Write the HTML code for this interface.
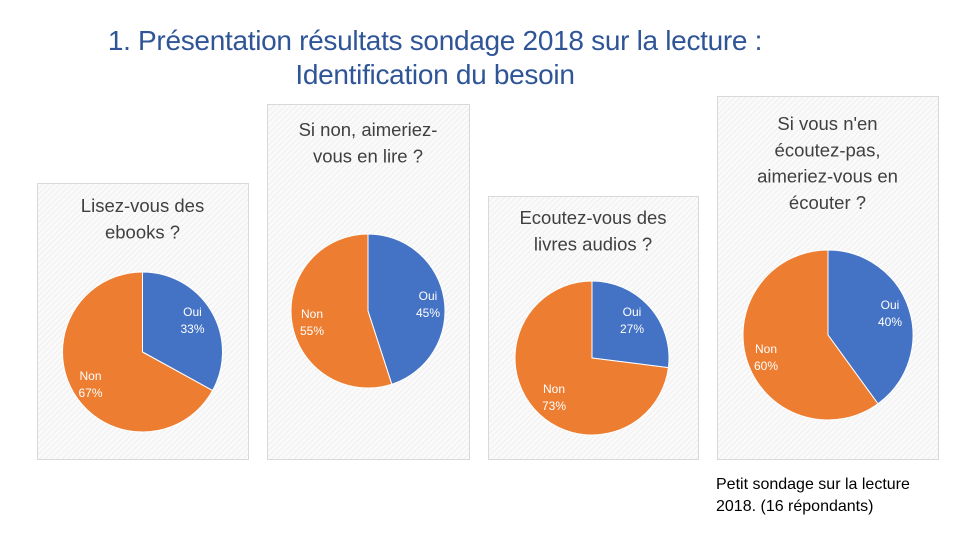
<!DOCTYPE html>
<html><head><meta charset="utf-8">
<style>
body{margin:0;width:960px;height:540px;background:#fff;overflow:hidden;font-family:"Liberation Sans",sans-serif;position:relative}
.t{position:absolute;left:0;width:870px;text-align:center;color:#2f5597;font-size:28px;line-height:34px;letter-spacing:-0.3px}
.note{position:absolute;left:716px;top:474px;font-size:16px;line-height:22px;color:#000}
</style></head><body>
<div class="t" style="top:24px">1. Présentation résultats sondage 2018 sur la lecture :<br>Identification du besoin</div>
<svg id="c" width="960" height="540" style="position:absolute;left:0;top:0">
<defs><pattern id="hatch" width="4" height="4" patternUnits="userSpaceOnUse" patternTransform="rotate(45)"><rect width="4" height="4" fill="#fafafa"/><line x1="0" y1="0" x2="0" y2="4" stroke="#ececec" stroke-width="1.5"/></pattern></defs>
</svg>
<div class="note">Petit sondage sur la lecture<br>2018. (16 répondants)</div>
<script>
const titles=[["Lisez-vous des","ebooks ?"],["Si non, aimeriez-","vous en lire ?"],["Ecoutez-vous des","livres audios ?"],["Si vous n'en","écoutez-pas,","aimeriez-vous en","écouter ?"]];
const categories=["Oui","Non"];
const ouiValues=[33,45,27,40];
const nonValues=[67,55,73,60];
const panels=[{x:37,y:183,w:211,h:276,cx:142.5,cy:352,r:80,ty:212,lo:[50,-36],ln:[-52,28]},
{x:267,y:104,w:202,h:355,cx:368,cy:311,r:77,ty:136,lo:[60,-11],ln:[-56,7]},
{x:488,y:196,w:210,h:263,cx:592,cy:358,r:77,ty:224,lo:[40,-42],ln:[-38,35]},
{x:717,y:96,w:221,h:363,cx:828,cy:335,r:85,ty:130,lo:[62,-26],ln:[-62,18]}];
const svg=document.getElementById('c');
const NS='http://www.w3.org/2000/svg';
function mk(t,a){const e=document.createElementNS(NS,t);for(const k in a)e.setAttribute(k,a[k]);svg.appendChild(e);return e;}
function pt(cx,cy,r,f){const a=f*2*Math.PI;return [cx+r*Math.sin(a),cy-r*Math.cos(a)];}
panels.forEach((p,i)=>{
 const bg=mk('rect',{x:p.x+.5,y:p.y+.5,width:p.w,height:p.h,fill:'url(#hatch)',stroke:'#d9d9d9'});
 
 
 titles[i].forEach((s,j)=>{const t=mk('text',{x:p.x+p.w/2,y:p.ty+j*26.3,'text-anchor':'middle','font-size':'18.5','fill':'#404040','font-family':'Liberation Sans, sans-serif'});t.textContent=s;
  
  });
 const tot=ouiValues[i]+nonValues[i];const f=ouiValues[i]/tot;
 const sl=[[0,f,'#4472c4'],[f,1,'#ed7d31']];
 sl.forEach((s,k)=>{const [ax,ay]=pt(p.cx,p.cy,p.r,s[0]);const [bx,by]=pt(p.cx,p.cy,p.r,s[1]);
  const large=(s[1]-s[0])>0.5?1:0;
  const e=mk('path',{d:`M${p.cx},${p.cy}L${ax},${ay}A${p.r},${p.r} 0 ${large} 1 ${bx},${by}Z`,fill:s[2],stroke:'#fff','stroke-width':'1'});
  
  
 });
 [[p.lo,categories[0],ouiValues[i]],[p.ln,categories[1],nonValues[i]]].forEach((L,k)=>{
  const t1=mk('text',{x:p.cx+L[0][0],y:p.cy+L[0][1],'text-anchor':'middle','font-size':'12','fill':'#fff','font-family':'Liberation Sans, sans-serif'});t1.textContent=L[1];
  
  
  const t2=mk('text',{x:p.cx+L[0][0],y:p.cy+L[0][1]+17,'text-anchor':'middle','font-size':'12','fill':'#fff','font-family':'Liberation Sans, sans-serif'});t2.textContent=L[2]+'%';
  
  
 });
});
</script>
</body></html>
